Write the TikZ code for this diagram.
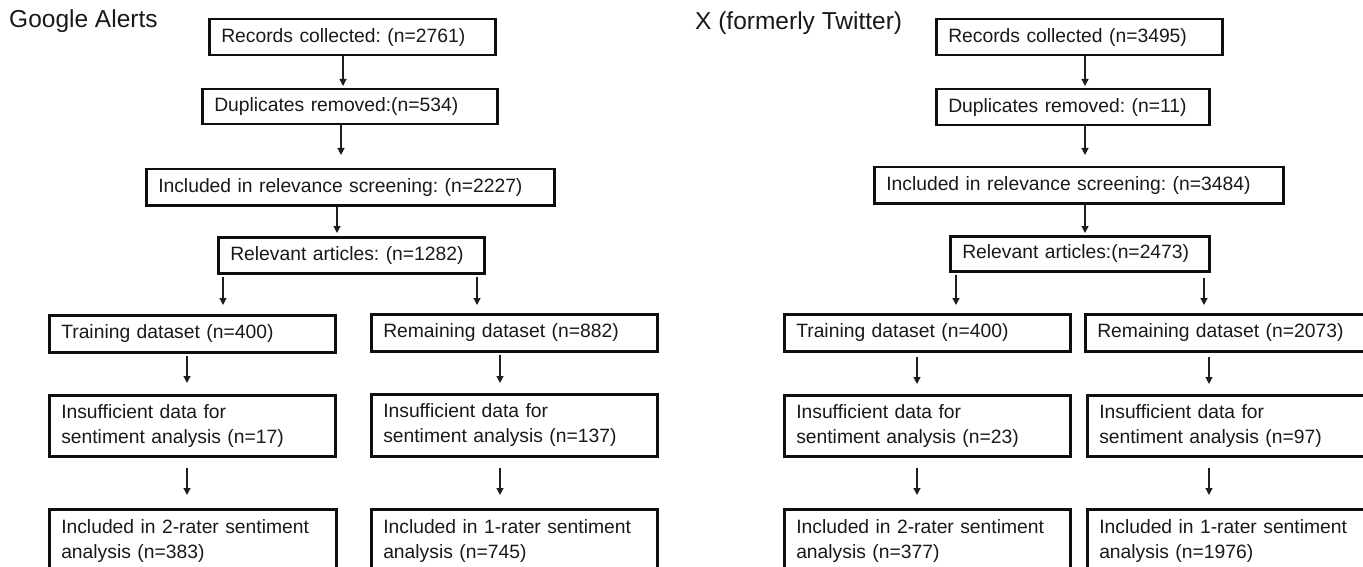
\documentclass[tikz,border=0pt]{standalone}
\usepackage{fontspec}
\setmainfont{Liberation Sans}
\usetikzlibrary{arrows.meta}
\definecolor{txtcol}{RGB}{25,25,25}
\definecolor{boxcol}{RGB}{15,15,15}
\definecolor{arrcol}{RGB}{30,30,30}
\newcommand\mybox[6]{%
  \pgfmathsetmacro\mytw{#4-24}%
  \node[box, minimum width=#4pt, minimum height=#5pt, text width=\mytw pt] (#1) at (#2,#3) {#6};}
\begin{document}
\frenchspacing
\begin{tikzpicture}[x=1pt,y=-1pt,
  box/.style={draw=boxcol, line width=2.5pt, anchor=north west, inner xsep=12pt, inner ysep=0pt,
    align=left, font=\frenchspacing\fontsize{19.3}{25}\selectfont, text=txtcol},
  arr/.style={draw=arrcol, line width=1.2pt, -{Triangle[width=7pt,length=7pt]}},
  ttl/.style={anchor=base west, inner sep=0pt, font=\fontsize{24.5}{28}\selectfont, text=txtcol}]
\useasboundingbox (0,0) rectangle (1363,567);
\clip (0,0) rectangle (1363,567);

% titles
\node[ttl] (tl) at (9,28) {Google Alerts};
\node[ttl] (tr) at (695,30) {X (formerly Twitter)};

% left flow
\mybox{L1}{208}{18}{286}{36}{Records collected: (n=2761)}
\mybox{L2}{201}{88}{295}{35}{Duplicates removed:(n=534)}
\mybox{L3}{145}{168}{408}{36}{Included in relevance screening: (n=2227)}
\mybox{L4}{217}{236}{266}{36}{Relevant articles: (n=1282)}
\mybox{L5}{48}{314}{286}{37}{Training dataset (n=400)}
\mybox{L6}{370}{313}{286}{37}{Remaining dataset (n=882)}
\mybox{L7}{48}{394}{286}{61}{Insufficient data for\\sentiment analysis (n=17)}
\mybox{L8}{370}{393}{286}{62}{Insufficient data for\\sentiment analysis (n=137)}
\mybox{L9}{48}{508}{287}{64}{Included in 2-rater sentiment\\analysis (n=383)}
\mybox{L10}{370}{508}{286}{64}{Included in 1-rater sentiment\\analysis (n=745)}

% right flow
\mybox{R1}{935}{18}{286}{36}{Records collected (n=3495)}
\mybox{R2}{935}{88}{273}{36}{Duplicates removed: (n=11)}
\mybox{R3}{873}{166}{409}{36}{Included in relevance screening: (n=3484)}
\mybox{R4}{949}{235}{259}{35}{Relevant articles:(n=2473)}
\mybox{R5}{783}{313}{286}{37}{Training dataset (n=400)}
\mybox{R6}{1084}{313}{290}{37}{Remaining dataset (n=2073)}
\mybox{R7}{783}{394}{286}{61}{Insufficient data for\\sentiment analysis (n=23)}
\mybox{R8}{1086}{394}{290}{61}{Insufficient data for\\sentiment analysis (n=97)}
\mybox{R9}{783}{508}{286}{64}{Included in 2-rater sentiment\\analysis (n=377)}
\mybox{R10}{1086}{508}{290}{64}{Included in 1-rater sentiment\\analysis (n=1976)}

% left arrows
\draw[arr, shorten >=2pt] (L1.south -| 343,0) -- (L2.north -| 343,0);
\draw[arr, shorten >=13pt] (L2.south -| 341,0) -- (L3.north -| 341,0);
\draw[arr, shorten >=3pt] (L3.south -| 337,0) -- (L4.north -| 337,0);
\draw[arr, shorten <=2pt, shorten >=9pt] (L4.south -| 223,0) -- (L5.north -| 223,0);
\draw[arr, shorten <=2pt, shorten >=8pt] (L4.south -| 477,0) -- (L6.north -| 477,0);
\draw[arr, shorten <=2pt, shorten >=11pt] (L5.south -| 187,0) -- (L7.north -| 187,0);
\draw[arr, shorten <=2pt, shorten >=10pt] (L6.south -| 500,0) -- (L8.north -| 500,0);
\draw[arr, shorten <=10pt, shorten >=13pt] (L7.south -| 187,0) -- (L9.north -| 187,0);
\draw[arr, shorten <=10pt, shorten >=13pt] (L8.south -| 500,0) -- (L10.north -| 500,0);

% right arrows
\draw[arr, shorten >=2pt] (R1.south -| 1085,0) -- (R2.north -| 1085,0);
\draw[arr, shorten >=11pt] (R2.south -| 1085,0) -- (R3.north -| 1085,0);
\draw[arr, shorten >=2pt] (R3.south -| 1085,0) -- (R4.north -| 1085,0);
\draw[arr, shorten <=2pt, shorten >=8pt] (R4.south -| 956,0) -- (R5.north -| 956,0);
\draw[arr, shorten <=5pt, shorten >=8pt] (R4.south -| 1204,0) -- (R6.north -| 1204,0);
\draw[arr, shorten <=4pt, shorten >=10pt] (R5.south -| 917,0) -- (R7.north -| 917,0);
\draw[arr, shorten <=4pt, shorten >=10pt] (R6.south -| 1209,0) -- (R8.north -| 1209,0);
\draw[arr, shorten <=10pt, shorten >=13pt] (R7.south -| 917,0) -- (R9.north -| 917,0);
\draw[arr, shorten <=10pt, shorten >=13pt] (R8.south -| 1209,0) -- (R10.north -| 1209,0);
\end{tikzpicture}
\end{document}
